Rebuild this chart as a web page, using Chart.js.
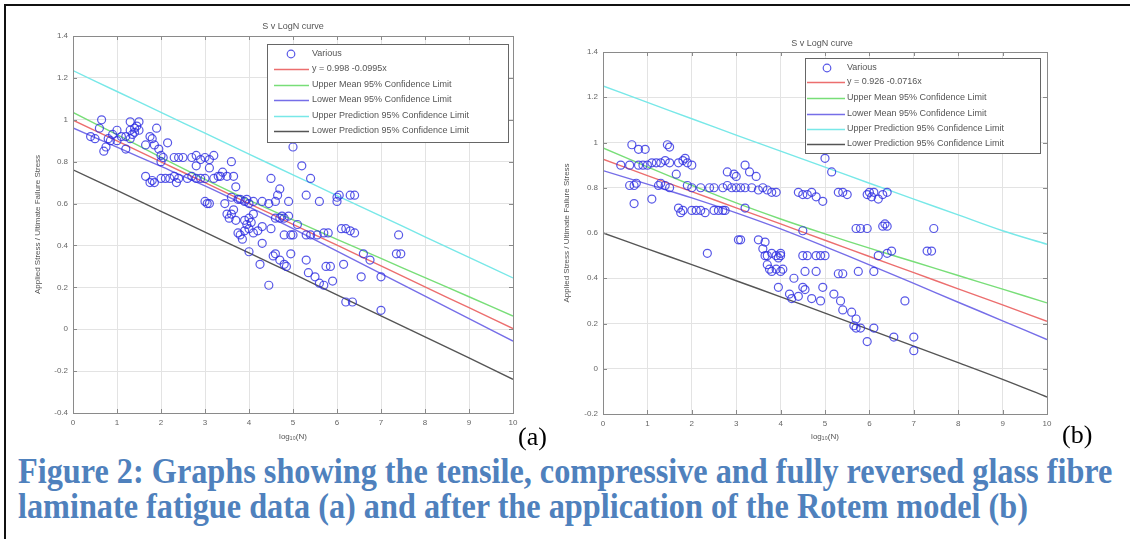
<!DOCTYPE html>
<html>
<head>
<meta charset="utf-8">
<script src="https://cdn.jsdelivr.net/npm/chart.js@4.4.1/dist/chart.umd.min.js"></script>
<style>
  html,body{margin:0;padding:0;background:#fff;}
  body{width:1130px;height:539px;position:relative;overflow:hidden;}
  .frame{position:absolute;left:4px;top:4px;width:1200px;height:600px;border-top:2px solid #111;border-left:2px solid #111;}
  canvas{position:absolute;top:0;}
  .lab{position:absolute;font-family:"Liberation Serif","Times New Roman",serif;font-size:26px;line-height:26px;color:#000;white-space:nowrap;}
  .cap{position:absolute;left:18px;font-family:"Liberation Serif","Times New Roman",serif;font-weight:bold;font-size:35px;line-height:35px;color:#4F81BD;white-space:nowrap;transform-origin:0 0;}
</style>
</head>
<body>
<div class="frame"></div>
<canvas id="ca" width="560" height="450" style="left:0px"></canvas>
<canvas id="cb" width="580" height="450" style="left:550px"></canvas>
<div class="lab" style="left:518px;top:424px">(a)</div>
<div class="lab" style="left:1062px;top:422px">(b)</div>
<div class="cap" id="cap1" style="top:454px">Figure 2: Graphs showing the tensile, compressive and fully reversed glass fibre</div>
<div class="cap" id="cap2" style="top:489px">laminate fatigue data (a) and after the application of the Rotem model (b)</div>
<script>
// ---------- DATA ----------
const xTicks = [0,1,2,3,4,5,6,7,8,9,10];
const yTicksA = [-0.4,-0.2,0,0.2,0.4,0.6,0.8,1,1.2,1.4];
const yTicksB = [-0.2,0,0.2,0.4,0.6,0.8,1,1.2,1.4];
const xGrid = [0,1,2,3,4,5,6,7,8,9,10];

const titleA = 'S v LogN curve';
const titleB = 'S v LogN curve';
const labelsA = ['Various','y = 0.998 -0.0995x','Upper Mean 95% Confidence Limit','Lower Mean 95% Confidence Limit','Upper Prediction 95% Confidence Limit','Lower Prediction 95% Confidence Limit'];
const labelsB = ['Various','y = 0.926 -0.0716x','Upper Mean 95% Confidence Limit','Lower Mean 95% Confidence Limit','Upper Prediction 95% Confidence Limit','Lower Prediction 95% Confidence Limit'];

// (a) lines at x = 0..10
const fitA       = [0.998,0.899,0.799,0.700,0.600,0.501,0.401,0.302,0.202,0.103,0.003];
const upMeanA    = [1.035,0.929,0.821,0.716,0.616,0.522,0.429,0.338,0.246,0.155,0.063];
const loMeanA    = [0.961,0.869,0.777,0.684,0.584,0.480,0.373,0.266,0.158,0.051,-0.057];
const upPredA    = [1.235,1.135,1.035,0.936,0.836,0.737,0.638,0.540,0.441,0.343,0.245];
const loPredA    = [0.761,0.663,0.563,0.464,0.364,0.265,0.164,0.064,-0.037,-0.137,-0.239];

// (b) lines at x = 0..10
const fitB       = [0.926,0.854,0.783,0.711,0.640,0.568,0.496,0.425,0.353,0.282,0.210];
const upMeanB    = [0.976,0.892,0.811,0.733,0.662,0.596,0.533,0.473,0.412,0.352,0.291];
const loMeanB    = [0.876,0.816,0.755,0.689,0.618,0.540,0.459,0.377,0.294,0.212,0.129];
const upPredB    = [1.250,1.177,1.105,1.033,0.962,0.891,0.820,0.750,0.680,0.610,0.550];
const loPredB    = [0.600,0.530,0.460,0.389,0.318,0.246,0.173,0.100,0.027,-0.047,-0.125];

// scatter points [log10(N), stress ratio]
const variousA = [
 [0.65,1.00],[0.60,0.96],[0.40,0.92],[0.50,0.91],[0.70,0.85],[0.75,0.87],[0.80,0.91],[0.85,0.90],[0.90,0.93],
 [1.00,0.95],[1.00,0.90],[1.10,0.92],[1.20,0.86],[1.20,0.92],[1.30,0.99],[1.30,0.95],[1.35,0.93],[1.40,0.96],
 [1.45,0.97],[1.50,0.99],[1.40,0.94],[1.30,0.91],[1.50,0.95],[1.90,0.96],[1.75,0.92],[1.65,0.88],[1.80,0.91],
 [1.85,0.88],[1.95,0.86],[2.00,0.83],[2.05,0.82],[2.15,0.89],[2.00,0.80],[1.65,0.73],[1.75,0.70],[1.80,0.71],
 [1.85,0.70],[2.00,0.72],[2.10,0.72],[2.20,0.72],[2.30,0.73],[2.35,0.70],[2.40,0.72],[2.30,0.82],[2.40,0.82],
 [2.50,0.82],[2.60,0.72],[2.70,0.73],[2.80,0.72],[2.90,0.72],[2.70,0.82],[2.80,0.83],[2.80,0.78],[2.90,0.81],
 [3.00,0.82],[3.10,0.81],[3.20,0.83],[3.10,0.77],[3.00,0.72],[3.20,0.72],[3.30,0.73],[3.35,0.73],[3.40,0.75],
 [3.50,0.73],[3.60,0.80],[3.65,0.73],[3.70,0.68],[3.00,0.61],[3.05,0.60],[3.10,0.60],[3.45,0.60],[3.60,0.63],
 [3.75,0.62],[3.80,0.62],[3.90,0.61],[3.95,0.62],[4.00,0.60],[4.10,0.61],[3.50,0.55],[3.55,0.53],[3.60,0.55],
 [3.65,0.57],[3.70,0.52],[3.75,0.46],[3.80,0.45],[3.85,0.43],[3.90,0.52],[3.95,0.50],[4.00,0.53],[4.00,0.48],
 [4.05,0.51],[4.10,0.55],[3.90,0.47],[4.10,0.46],[4.20,0.47],[4.30,0.49],[4.00,0.37],[4.30,0.41],[4.25,0.31],
 [4.50,0.72],[4.45,0.60],[4.30,0.61],[4.60,0.61],[4.65,0.64],[4.70,0.67],[4.50,0.48],[4.60,0.53],[4.70,0.53],
 [4.75,0.54],[4.80,0.53],[4.90,0.54],[4.90,0.61],[4.55,0.35],[4.60,0.36],[4.70,0.33],[4.80,0.31],[4.85,0.30],
 [4.95,0.36],[4.45,0.21],[4.80,0.45],[4.95,0.45],[5.00,0.45],[5.00,0.87],[5.20,0.78],[5.40,0.72],[5.10,0.50],
 [5.30,0.64],[5.30,0.45],[5.40,0.45],[5.55,0.45],[5.70,0.46],[5.80,0.46],[5.60,0.61],[5.30,0.33],[5.35,0.27],
 [5.50,0.25],[5.60,0.22],[5.70,0.21],[5.75,0.30],[5.85,0.30],[5.90,0.23],[6.00,0.63],[6.00,0.61],[6.05,0.64],
 [6.30,0.64],[6.40,0.64],[6.10,0.48],[6.20,0.48],[6.30,0.47],[6.40,0.46],[6.15,0.31],[6.20,0.13],[6.35,0.13],
 [6.55,0.25],[6.60,0.36],[6.75,0.33],[7.00,0.25],[7.00,0.09],[7.40,0.45],[7.35,0.36],[7.45,0.36]
];
const variousB = [
 [0.65,0.99],[0.80,0.97],[0.95,0.97],[1.45,0.99],[1.50,0.98],[0.40,0.90],[0.60,0.90],[0.80,0.90],[0.90,0.90],
 [1.00,0.90],[1.10,0.91],[1.20,0.91],[1.30,0.91],[1.50,0.91],[1.40,0.92],[1.70,0.91],[1.80,0.92],[1.90,0.91],
 [2.00,0.90],[1.85,0.93],[1.65,0.86],[0.60,0.81],[0.70,0.81],[0.75,0.82],[1.25,0.81],[1.30,0.82],[1.40,0.81],
 [1.50,0.80],[1.90,0.81],[2.00,0.80],[2.20,0.80],[2.40,0.80],[2.50,0.80],[2.70,0.80],[2.80,0.81],[2.90,0.80],
 [3.00,0.80],[3.10,0.80],[3.20,0.80],[3.35,0.80],[3.50,0.79],[3.60,0.80],[3.70,0.79],[3.80,0.78],[3.90,0.78],
 [2.80,0.87],[2.95,0.86],[3.00,0.85],[3.20,0.90],[3.30,0.87],[3.45,0.85],[0.70,0.73],[1.10,0.75],[1.70,0.71],
 [1.75,0.69],[1.80,0.70],[2.00,0.70],[2.10,0.70],[2.20,0.70],[2.30,0.69],[2.50,0.70],[2.60,0.70],[2.70,0.70],
 [2.75,0.70],[3.20,0.71],[2.35,0.51],[3.05,0.57],[3.10,0.57],[3.50,0.57],[3.65,0.56],[3.60,0.53],[3.65,0.50],
 [3.70,0.50],[3.80,0.51],[3.90,0.50],[3.95,0.49],[4.00,0.50],[4.00,0.51],[3.70,0.46],[3.75,0.44],[3.80,0.43],
 [3.90,0.44],[4.00,0.43],[4.05,0.44],[4.30,0.40],[3.95,0.36],[4.20,0.33],[4.25,0.31],[4.40,0.32],[4.50,0.36],
 [4.55,0.35],[4.70,0.31],[4.90,0.30],[4.95,0.36],[4.40,0.78],[4.50,0.77],[4.60,0.77],[4.70,0.78],[4.80,0.76],
 [4.95,0.74],[5.00,0.93],[5.15,0.87],[5.30,0.78],[5.40,0.78],[5.50,0.77],[4.50,0.61],[4.50,0.50],[4.60,0.50],
 [4.80,0.50],[4.90,0.50],[5.00,0.50],[4.80,0.43],[5.30,0.42],[5.40,0.42],[4.55,0.43],[5.20,0.33],[5.35,0.30],
 [5.40,0.26],[5.60,0.25],[5.70,0.22],[5.65,0.19],[5.70,0.18],[5.80,0.18],[5.75,0.43],[5.70,0.62],[5.80,0.62],
 [5.95,0.62],[6.30,0.63],[6.40,0.63],[6.35,0.64],[6.00,0.78],[5.95,0.77],[6.05,0.76],[6.10,0.78],[6.20,0.75],
 [6.30,0.77],[6.40,0.78],[5.95,0.12],[6.10,0.18],[6.10,0.43],[6.20,0.50],[6.40,0.51],[6.50,0.52],[6.55,0.14],
 [6.80,0.30],[7.00,0.14],[7.00,0.08],[7.30,0.52],[7.40,0.52],[7.45,0.62]
];

// ---------- STYLE ----------
const FONT = '"Liberation Sans", Arial, Helvetica, sans-serif';
const lineColors = ['rgb(236,110,110)','rgb(120,222,120)','rgb(118,110,232)','rgb(120,232,232)','rgb(85,85,85)'];
const markerColor = 'rgba(45,45,225,0.8)';

function fmt(v){ return String(Math.round(v*10)/10); }

const decor = {
  id:'decor',
  afterDraw(chart, args, o){
    const ctx = chart.ctx, ca = chart.chartArea;
    ctx.save();
    ctx.strokeStyle = '#8a8a8a'; ctx.lineWidth = 1;
    ctx.strokeRect(Math.round(ca.left)+0.5, Math.round(ca.top)+0.5, Math.round(ca.right-ca.left), Math.round(ca.bottom-ca.top));
    const xs = chart.scales.x, ys = chart.scales.y;
    ctx.beginPath();
    xs.ticks.forEach(t=>{ const px=Math.round(xs.getPixelForValue(t.value))+0.5;
      ctx.moveTo(px, ca.bottom); ctx.lineTo(px, ca.bottom-4); ctx.moveTo(px, ca.top); ctx.lineTo(px, ca.top+4); });
    ys.ticks.forEach(t=>{ const py=Math.round(ys.getPixelForValue(t.value))+0.5;
      ctx.moveTo(ca.left, py); ctx.lineTo(ca.left+4, py); ctx.moveTo(ca.right, py); ctx.lineTo(ca.right-4, py); });
    ctx.stroke();
    ctx.fillStyle = '#555'; ctx.font = '9px '+FONT; ctx.textAlign='center'; ctx.textBaseline='middle';
    ctx.fillText(o.title, o.titleX, o.titleY);
    const L = o.legend;
    ctx.fillStyle = '#fff';
    ctx.fillRect(L.x0, L.y0, L.x1-L.x0, L.y1-L.y0);
    ctx.strokeStyle = '#666';
    ctx.strokeRect(L.x0+0.5, L.y0+0.5, L.x1-L.x0, L.y1-L.y0);
    ctx.textAlign='left'; ctx.font='9px '+FONT;
    chart.data.datasets.forEach((ds,i)=>{
      const y = L.rows[i];
      if(i===0){
        ctx.strokeStyle = markerColor; ctx.lineWidth=1.2;
        ctx.beginPath(); ctx.arc(L.mx, y, 3.8, 0, Math.PI*2); ctx.stroke();
      } else {
        ctx.strokeStyle = ds.borderColor; ctx.lineWidth=1.3;
        ctx.beginPath(); ctx.moveTo(L.lx0, y+0.5); ctx.lineTo(L.lx1, y+0.5); ctx.stroke();
      }
      ctx.fillStyle = '#555';
      ctx.fillText(ds.label, L.tx, y);
    });
    ctx.restore();
  }
};

function build(id, d){
  const lineSets = [d.fit, d.upMean, d.loMean, d.upPred, d.loPred].map((arr,k)=>({
    label: d.labels[k+1],
    data: xGrid.map((x,i)=>({x:x, y:arr[i]})),
    showLine:true, borderColor: lineColors[k], backgroundColor: lineColors[k],
    borderWidth:1.4, pointRadius:0, tension:0.35, fill:false
  }));
  const datasets = [{
    label: d.labels[0],
    data: d.pts.map(p=>({x:p[0], y:p[1]})),
    showLine:false, pointStyle:'circle', pointRadius:4, pointBorderWidth:1.2,
    borderColor: markerColor, backgroundColor:'rgba(0,0,0,0)', pointBackgroundColor:'rgba(0,0,0,0)'
  }].concat(lineSets);

  return new Chart(document.getElementById(id), {
    type:'scatter',
    data:{datasets},
    plugins:[decor],
    options:{
      responsive:false, animation:false, devicePixelRatio:1,
      layout:{padding:{left:0, right:d.padR, top:d.padT, bottom:0}},
      plugins:{legend:{display:false}, tooltip:{enabled:false},
        decor:{title:d.title, titleX:d.titleX, titleY:d.titleY, legend:d.legend}},
      scales:{
        x:{type:'linear', min:0, max:10,
          afterBuildTicks:s=>{ s.ticks = xTicks.map(v=>({value:v})); },
          afterFit:s=>{ s.height = d.xH; },
          grid:{color:'#e3e3e3', drawTicks:false},
          border:{color:'#8a8a8a'},
          ticks:{padding:5, color:'#666', font:{size:8, family:FONT}, maxRotation:0, callback:v=>fmt(v)},
          title:{display:true, text:'log\u2081\u2080(N)', color:'#555', font:{size:8, family:FONT}, padding:{top:0,bottom:d.xTitlePad}}
        },
        y:{type:'linear', min:d.yMin, max:d.yMax,
          afterBuildTicks:s=>{ s.ticks = d.yTicks.map(v=>({value:v})); },
          afterFit:s=>{ s.width = d.yW; },
          grid:{color:'#e3e3e3', drawTicks:false},
          border:{color:'#8a8a8a'},
          ticks:{padding:5, color:'#666', font:{size:8, family:FONT}, callback:v=>fmt(v)},
          title:{display:true, text:'Applied Stress / Ultimate Failure Stress', color:'#555', font:{size:8, family:FONT}, padding:{top:d.yTitlePad,bottom:0}}
        }
      }
    }
  });
}

build('ca', {
  pts:variousA, fit:fitA, upMean:upMeanA, loMean:loMeanA, upPred:upPredA, loPred:loPredA,
  labels:labelsA, yTicks:yTicksA, yMin:-0.4, yMax:1.4,
  padR:47, padT:36, xH:37, yW:73, xTitlePad:8, yTitlePad:33,
  title:titleA, titleX:293, titleY:27,
  legend:{x0:267, x1:508, y0:44, y1:142, rows:[54,69,85,100,116,131], lx0:274, lx1:309, mx:291, tx:312}
});
build('cb', {
  pts:variousB, fit:fitB, upMean:upMeanB, loMean:loMeanB, upPred:upPredB, loPred:loPredB,
  labels:labelsB, yTicks:yTicksB, yMin:-0.2, yMax:1.4,
  padR:83, padT:52, xH:36, yW:53, xTitlePad:8, yTitlePad:12,
  title:titleB, titleX:272, titleY:44,
  legend:{x0:255, x1:490, y0:58, y1:153, rows:[68,82,98,114,129,144], lx0:257, lx1:295, mx:277, tx:297}
});

(function(){
  const c1 = document.getElementById('cap1'), c2 = document.getElementById('cap2');
  const w = c1.scrollWidth;
  const s = 1094 / w;
  c1.style.transform = 'scaleX('+s+')';
  c2.style.transform = 'scaleX('+s+')';
})();
</script>
</body>
</html>
